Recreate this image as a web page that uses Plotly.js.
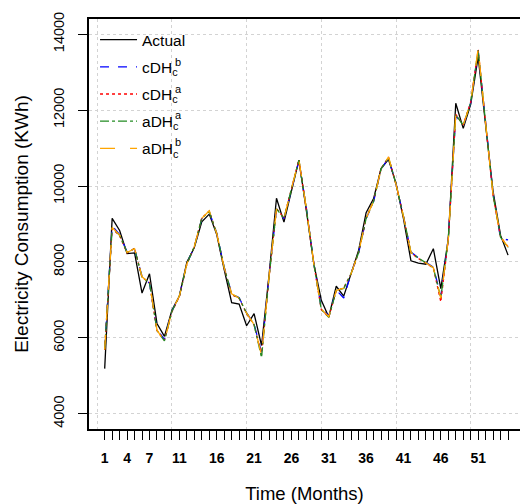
<!DOCTYPE html>
<html>
<head>
<meta charset="utf-8">
<script src="https://cdn.plot.ly/plotly-3.0.1.min.js"></script>
<style>html,body{margin:0;padding:0;background:#fff;}#chart{width:520px;height:504px;}</style>
</head>
<body>
<div id="chart"></div>
<script>
var months = [1,2,3,4,5,6,7,8,9,10,11,12,13,14,15,16,17,18,19,20,21,22,23,24,25,26,27,28,29,30,31,32,33,34,35,36,37,38,39,40,41,42,43,44,45,46,47,48,49,50,51,52,53,54,55];
var tickLabels = {1:"1",4:"4",7:"7",11:"11",16:"16",21:"21",26:"26",31:"31",36:"36",41:"41",46:"46",51:"51"};

var actual = [5190,9150,8830,8220,8240,7180,7690,6380,6040,6730,7100,7990,8380,9060,9260,8720,7800,6930,6890,6320,6640,5800,7650,9680,9050,9900,10680,9350,7950,6990,6550,7360,7100,7700,8310,9300,9670,10460,10700,10070,9140,8030,7970,7940,8350,7300,8600,12180,11520,12150,13400,11600,9850,8700,8180];
var cDHb = [5720,8950,8720,8260,8340,7620,7440,6220,5960,6700,7110,7960,8390,9140,9320,8760,7860,7170,7060,6660,6360,5620,7620,9380,9140,9940,10660,9420,7960,6780,6580,7260,7050,7710,8240,9140,9590,10440,10740,10060,9210,8260,8110,7990,7860,7100,8620,11860,11590,12190,13560,11680,9780,8620,8580];
var cDHa = [5680,8880,8690,8240,8360,7590,7460,6190,5940,6690,7090,7940,8400,9160,9340,8740,7840,7140,7040,6640,6340,5550,7590,9410,9160,9960,10690,9390,7940,6740,6550,7240,7320,7690,8260,9160,9610,10460,10760,10040,9190,8240,8090,7970,7840,6950,8590,11890,11610,12210,13590,11640,9740,8660,8400];
var aDHa = [5700,8900,8700,8250,8350,7600,7450,6200,5920,6700,7100,7950,8400,9150,9330,8750,7850,7150,7050,6650,6350,5480,7600,9400,9150,9950,10680,9400,7950,6750,6540,7250,7300,7700,8250,9150,9600,10450,10750,10050,9200,8250,8100,7980,7850,7050,8600,11880,11600,12200,13580,11650,9750,8650,8380];
var aDHb = [5690,8910,8710,8250,8350,7610,7450,6210,5900,6710,7100,7950,8410,9150,9350,8750,7850,7160,7050,6650,6350,5540,7610,9400,9150,9950,10700,9400,7950,6760,6560,7250,7310,7700,8250,9150,9600,10450,10770,10050,9200,8250,8100,7980,7850,7040,8600,11880,11600,12210,13620,11650,9760,8650,8400];

var yTicks = [4000,6000,8000,10000,12000,14000];
var yTickText = ["4000","6000","8000","10000","12000","14000"];
var xGrid = [0,10,20,30,40,50];

var seriesNames = ["Actual", "cDH<sub>c</sub>", "cDH<sub>c</sub>", "aDH<sub>c</sub>", "aDH<sub>c</sub>"];
var seriesSup = ["", "b", "a", "a", "b"];

var tickText = months.map(function(m){ return tickLabels[m] || ""; });

var FONT = "Liberation Sans, Arial, Helvetica, sans-serif";

var traces = [
  {x: months, y: actual, name: seriesNames[0], legendgroup: "g1", mode: "lines", line: {color: "#000000", width: 1.3}},
  {x: months, y: cDHb, name: seriesNames[1], legendgroup: "g2", mode: "lines", line: {color: "#0000FF", width: 1.3, dash: "dash"}},
  {x: months, y: cDHa, name: seriesNames[2], legendgroup: "g3", mode: "lines", line: {color: "#FF0000", width: 1.3, dash: "dot"}},
  {x: months, y: aDHa, name: seriesNames[3], legendgroup: "g4", mode: "lines", line: {color: "#228B22", width: 1.3, dash: "dashdot"}},
  {x: months, y: aDHb, name: seriesNames[4], legendgroup: "g5", mode: "lines", line: {color: "#FFA500", width: 1.3, dash: "longdash"}}
];

// superscripts stacked above the subscripts of the legend labels
var supAnn = [];
var rowY = [41, 68, 94.5, 121, 147.5];
for (var k = 1; k < 5; k++) {
  supAnn.push({xref: "paper", yref: "paper", x: (172.5 - 89) / 431, y: 1 - (rowY[k] - 6 - 19) / 410,
               xanchor: "left", yanchor: "middle", showarrow: false, text: seriesSup[k],
               font: {family: FONT, size: 11, color: "#000"}});
}

var layout = {
  width: 520, height: 504,
  margin: {l: 89, r: 0, t: 19, b: 75, pad: 0},
  paper_bgcolor: "#ffffff", plot_bgcolor: "#ffffff",
  font: {family: FONT, color: "#000000", size: 13},
  showlegend: true,
  legend: {x: 0.014, y: 0.99, xanchor: "left", yanchor: "top", bgcolor: "rgba(0,0,0,0)", borderwidth: 0,
           traceorder: "grouped", tracegroupgap: 4, itemwidth: 37,
           font: {family: FONT, size: 15.5, color: "#000"}},
  annotations: supAnn,
  xaxis: {
    range: [-1.1, 56.6], tickmode: "array", tickvals: months, ticktext: tickText,
    ticks: "outside", ticklen: 9, tickwidth: 1, tickcolor: "#000",
    showgrid: false, zeroline: false, showline: true, linecolor: "#000", linewidth: 2, mirror: true,
    tickfont: {family: FONT, size: 14, weight: "bold"}, ticklabelstandoff: 6,
    title: {text: "Time (Months)", font: {family: FONT, size: 18.5}, standoff: 24}
  },
  xaxis2: {
    overlaying: "x", range: [-1.1, 56.6], tickmode: "array", tickvals: xGrid,
    showticklabels: false, ticks: "", showline: false, zeroline: false,
    showgrid: true, gridcolor: "#d3d3d3", griddash: "dot", gridwidth: 1
  },
  yaxis: {
    range: [3600, 14400], tickmode: "array", tickvals: yTicks, ticktext: yTickText,
    ticks: "outside", ticklen: 9, tickwidth: 1, tickcolor: "#000", tickangle: -90,
    showgrid: true, gridcolor: "#d3d3d3", griddash: "dot", gridwidth: 1,
    zeroline: false, showline: true, linecolor: "#000", linewidth: 2, mirror: false,
    tickfont: {family: FONT, size: 14.5}, ticklabelstandoff: 8,
    title: {text: "Electricity Consumption (KWh)", font: {family: FONT, size: 19}, standoff: 18}
  }
};

traces.push({x: [], y: [], xaxis: "x2", yaxis: "y", showlegend: false, hoverinfo: "skip", mode: "lines"});

Plotly.newPlot("chart", traces, layout, {staticPlot: true, displayModeBar: false});
</script>
</body>
</html>
